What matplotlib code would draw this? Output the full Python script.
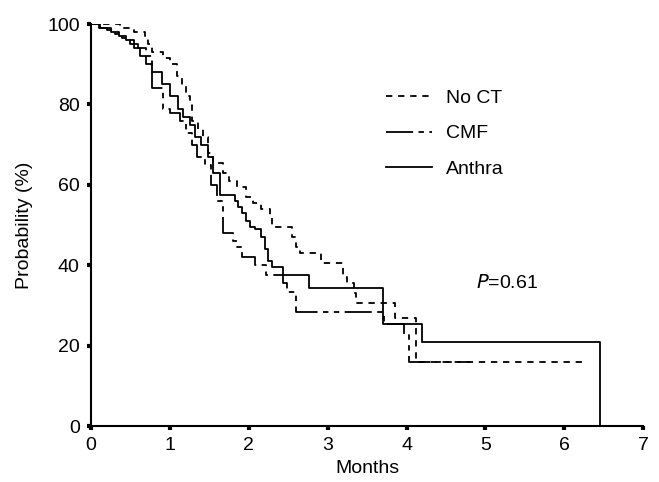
import numpy as np
import matplotlib
matplotlib.use("Agg")
import matplotlib.pyplot as plt

plt.rcParams['font.family'] = ['Liberation Sans', 'DejaVu Sans']

# Kaplan-Meier step data (months, probability %)
noct_t = [0, 0.37, 0.55, 0.68, 0.72, 0.78, 0.91, 1.0, 1.09, 1.15, 1.21, 1.25, 1.28, 1.36,
          1.42, 1.48, 1.55, 1.67, 1.75, 1.85, 1.97, 2.05, 2.15, 2.27, 2.3, 2.55, 2.6, 2.65,
          2.92, 3.19, 3.25, 3.34, 3.36, 3.85, 4.12, 6.25]
noct_p = [100, 99, 98, 97, 95, 93, 91.5, 90, 87, 84.5, 82, 80, 76, 74,
          72, 68, 65.5, 63, 61, 59.5, 57, 55.5, 54, 52, 49.5, 47, 44.6, 43,
          40.6, 37, 35.7, 33, 30.7, 27, 16, 16]

cmf_t = [0, 0.1, 0.2, 0.3, 0.4, 0.5, 0.6, 0.7, 0.78, 0.91, 1.0, 1.13, 1.2, 1.28, 1.34,
         1.45, 1.52, 1.6, 1.67, 1.8, 1.85, 1.92, 2.08, 2.22, 2.43, 2.48, 2.6, 3.72, 3.97,
         4.03, 4.8]
cmf_p = [100, 99, 98.5, 97.5, 96.5, 95, 94, 92, 84, 79, 78, 76, 73, 70, 67,
         65, 60, 56, 48, 46, 44.6, 42, 40, 37.6, 35.7, 33.4, 28.4, 25.5, 23,
         16, 16]

anthra_t = [0, 0.12, 0.25, 0.35, 0.45, 0.55, 0.62, 0.7, 0.78, 0.9, 1.0, 1.1, 1.17, 1.25,
            1.32, 1.4, 1.48, 1.55, 1.63, 1.82, 1.87, 1.92, 1.97, 2.02, 2.08, 2.16, 2.2,
            2.24, 2.29, 2.43, 2.77, 3.7, 4.2, 6.45]
anthra_p = [100, 99, 98, 97, 96, 94, 92, 90, 88, 85, 82, 79, 77, 75,
            72, 70, 67, 63, 57.6, 56, 54.5, 53, 51, 49.6, 49, 47, 44,
            41, 39.6, 37.6, 34.4, 25.5, 21, 0]

fig = plt.figure(figsize=(6.59, 4.82), dpi=100)
ax = fig.add_axes([0.138, 0.116, 0.838, 0.834])

ax.step(noct_t, noct_p, where='post', color='black', lw=1.3, dashes=(3.5, 3.2), label='No CT')
ax.step(cmf_t, cmf_p, where='post', color='black', lw=1.3, dashes=(15, 3, 3, 3, 3, 3), label='CMF')
ax.step(anthra_t, anthra_p, where='post', color='black', lw=1.3, label='Anthra')

ax.set_xlim(0, 7)
ax.set_ylim(0, 100)
ax.set_xticks(range(0, 8))
ax.set_yticks(range(0, 101, 20))
for s in ['top', 'right']:
    ax.spines[s].set_visible(False)
for s in ['left', 'bottom']:
    ax.spines[s].set_linewidth(1.5)
ax.tick_params(direction='out', length=3, width=3, labelsize=14, pad=5)
ax.set_xlabel('Months', fontsize=14, labelpad=4)
ax.set_ylabel('Probability (%)', fontsize=14, labelpad=10)

ax.legend(loc='upper left', bbox_to_anchor=(0.516, 0.862), frameon=False, fontsize=14,
          handlelength=2.4, handletextpad=0.7, labelspacing=0.92, borderpad=0)

ax.text(5.27, 35.6, r'$P$=0.61', fontsize=14, ha='center', va='center')

fig.savefig('out.png', dpi=100)
